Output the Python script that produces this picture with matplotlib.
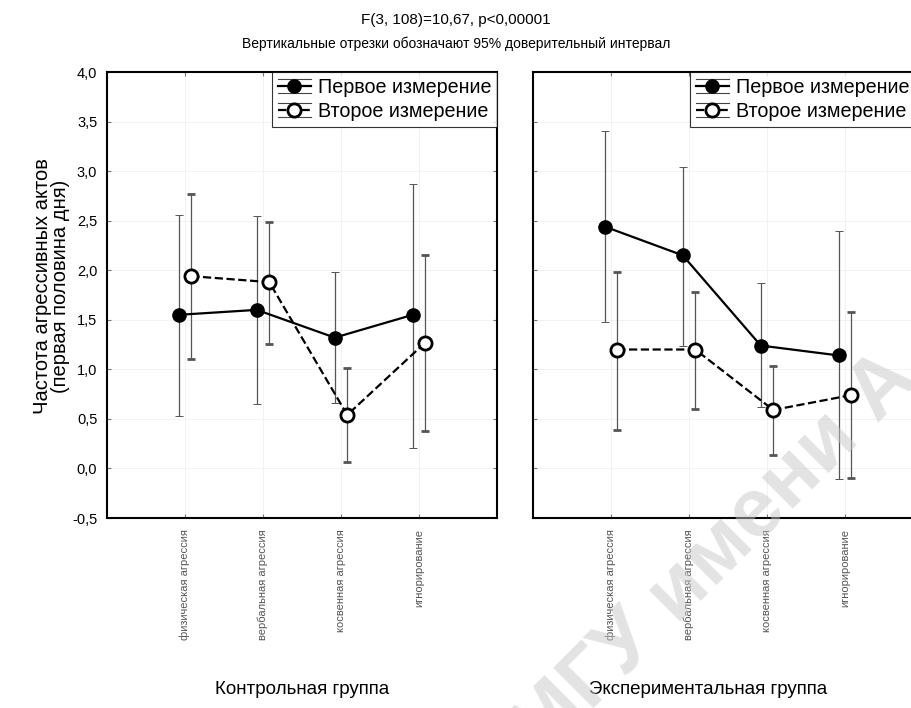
import numpy as np
import matplotlib
matplotlib.use("Agg")
import matplotlib.pyplot as plt
from matplotlib.ticker import FuncFormatter
from matplotlib.lines import Line2D
from matplotlib.legend_handler import HandlerBase

plt.rcParams['font.family'] = ['Liberation Sans', 'DejaVu Sans']

categories = ['физическая агрессия', 'вербальная агрессия', 'косвенная агрессия', 'игнорирование']
groups = ['Контрольная группа', 'Экспериментальная группа']
series_names = ['Первое измерение', 'Второе измерение']

# контрольная группа
ctrl_m1 = [1.55, 1.60, 1.32, 1.55]
ctrl_m1_lo = [0.53, 0.65, 0.66, 0.21]
ctrl_m1_hi = [2.56, 2.55, 1.98, 2.87]
ctrl_m2 = [1.94, 1.88, 0.54, 1.27]
ctrl_m2_lo = [1.10, 1.26, 0.07, 0.38]
ctrl_m2_hi = [2.77, 2.49, 1.01, 2.15]

# экспериментальная группа
exp_m1 = [2.44, 2.15, 1.24, 1.14]
exp_m1_lo = [1.48, 1.24, 0.62, -0.11]
exp_m1_hi = [3.40, 3.04, 1.87, 2.40]
exp_m2 = [1.20, 1.20, 0.59, 0.74]
exp_m2_lo = [0.39, 0.60, 0.14, -0.10]
exp_m2_hi = [1.98, 1.78, 1.03, 1.58]


class WhiskerHandler(HandlerBase):
    # значок легенды как в Statistica: линия с маркером и усы сверху/снизу
    def create_artists(self, legend, orig_handle, xdescent, ydescent, width, height, fontsize, trans):
        x0, x1 = -xdescent, -xdescent + width
        yc = height / 2 - ydescent
        d = 0.5 * height
        top = Line2D([x0, x1], [yc + d, yc + d], color='#444444', lw=0.8)
        bot = Line2D([x0, x1], [yc - d, yc - d], color='#444444', lw=0.8)
        main = Line2D([x0, x1], [yc, yc], color='black', lw=1.6, ls=orig_handle.get_linestyle())
        mk = Line2D([(x0 + x1) / 2], [yc], marker='o', ms=orig_handle.get_markersize(),
                    mfc=orig_handle.get_markerfacecolor(), mec='black',
                    mew=orig_handle.get_markeredgewidth(), ls='none')
        arts = [top, bot, main, mk]
        for a in arts:
            a.set_transform(trans)
        return arts


fig = plt.figure(figsize=(9.12, 7.08), dpi=100)
W, H = 912, 708
ax1 = fig.add_axes([107 / W, (H - 518) / H, 390 / W, 446 / H])
ax2 = fig.add_axes([533 / W, (H - 518) / H, 390 / W, 446 / H])

x = np.arange(1, len(categories) + 1)
dx = 0.08

panels = [
    (ax1, ctrl_m1, ctrl_m1_lo, ctrl_m1_hi, ctrl_m2, ctrl_m2_lo, ctrl_m2_hi),
    (ax2, exp_m1, exp_m1_lo, exp_m1_hi, exp_m2, exp_m2_lo, exp_m2_hi),
]

for i, (ax, m1, lo1, hi1, m2, lo2, hi2) in enumerate(panels):
    m1, lo1, hi1 = np.array(m1), np.array(lo1), np.array(hi1)
    m2, lo2, hi2 = np.array(m2), np.array(lo2), np.array(hi2)
    e1 = ax.errorbar(x - dx, m1, yerr=[m1 - lo1, hi1 - m1], fmt='o-', color='black',
                     ecolor='#555555', elinewidth=0.9, capsize=3, capthick=0.7,
                     lw=1.6, ms=9.5, mfc='black', mec='black', zorder=3)
    e2 = ax.errorbar(x + dx, m2, yerr=[m2 - lo2, hi2 - m2], fmt='o--', color='black',
                     ecolor='#555555', elinewidth=0.9, capsize=3, capthick=0.7,
                     lw=1.6, ms=9.5, mfc='white', mec='black', mew=2, zorder=3)
    ax.set_xlim(0, 5)
    ax.set_ylim(-0.5, 4.0)
    ax.set_yticks(np.arange(-0.5, 4.01, 0.5))
    ax.set_xticks(x)
    ax.set_xticklabels(categories, rotation=90, fontsize=8, color='#555555', va='top')
    ax.tick_params(direction='in', length=3, color='#777777', top=True, right=True, width=0.8)
    ax.tick_params(axis='x', pad=8)
    ax.grid(True, color='#f0f0f0', lw=0.6)
    ax.set_axisbelow(True)
    for s in ax.spines.values():
        s.set_linewidth(1.5)
    ax.set_xlabel(groups[i], fontsize=13.5, labelpad=0)
    if i == 0:
        ax.yaxis.set_major_formatter(FuncFormatter(lambda v, p: f"{v:.1f}".replace('.', ',')))
        ax.tick_params(axis='y', labelsize=10.5, pad=7)
        ax.set_ylabel('Частота агрессивных актов\n(первая половина дня)', fontsize=14.5, linespacing=0.9)
        ax.yaxis.set_label_coords(-0.095, 0.52)
        ax.xaxis.set_label_coords(0.5, -0.365)
        anchor = (1, 1)
    else:
        ax.set_yticklabels([])
        ax.xaxis.set_label_coords(0.45, -0.365)
        anchor = (1 - 8 / 390, 1)  # правая панель обрезана краем рисунка
    h1, h2 = e1.lines[0], e2.lines[0]
    leg = ax.legend([h1, h2], series_names, loc='upper right', bbox_to_anchor=anchor,
                    fontsize=14.2, frameon=True, fancybox=False, edgecolor='black',
                    borderaxespad=0, handlelength=1.65, handletextpad=0.35, borderpad=0.3,
                    labelspacing=0.25, handler_map={h1: WhiskerHandler(), h2: WhiskerHandler()})
    leg.get_frame().set_linewidth(0.8)

fig.text(0.5, 1 - 20 / H, 'F(3, 108)=10,67, p<0,00001', ha='center', va='center', fontsize=11)
fig.text(0.5, 1 - 44 / H, 'Вертикальные отрезки обозначают 95% доверительный интервал',
         ha='center', va='center', fontsize=10)

# водяной знак
fig.text(541 / W, 1 - 761 / H, 'МГУ имени А.А. Кулешова', fontsize=60, color='#c8c8c8',
         alpha=0.5, rotation=45, rotation_mode='anchor', ha='left', va='baseline',
         fontweight='bold', zorder=10)

fig.savefig('out.png', dpi=100)
